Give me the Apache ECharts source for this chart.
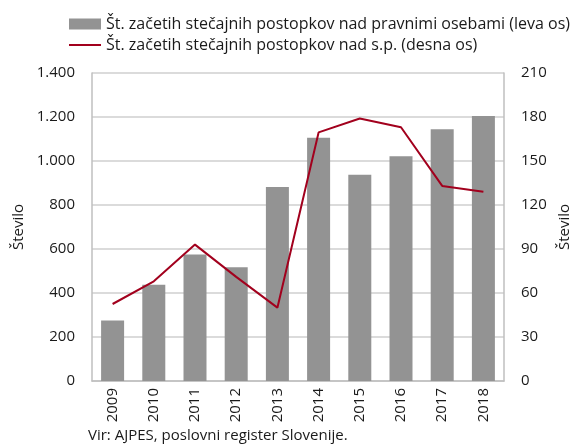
<!DOCTYPE html>
<html>
<head>
<meta charset="utf-8">
<script src="https://cdn.jsdelivr.net/npm/echarts@6/dist/echarts.min.js"></script>
<style>
  html, body { margin: 0; padding: 0; background: #fff; }
  #chart { width: 573px; height: 448px; }
</style>
</head>
<body>
<div id="chart"></div>
<script>
const years = ['2009', '2010', '2011', '2012', '2013', '2014', '2015', '2016', '2017', '2018']
// pravne osebe (leva os)
const pravneOsebe = [275, 437, 575, 517, 882, 1106, 937, 1022, 1144, 1204]
// s.p. (desna os)
const samostojniPodjetniki = [52.5, 68, 93, 71, 50, 169.5, 179, 173, 133, 129]

const barName = 'Št. začetih stečajnih postopkov nad pravnimi osebami (leva os)'
const lineName = 'Št. začetih stečajnih postopkov nad s.p. (desna os)'

const font = '"Open Sans", "Noto Sans", sans-serif'
const fmt = v => String(v).replace(/\B(?=(\d{3})+(?!\d))/g, '.')

const myChart = echarts.init(document.getElementById('chart'))
myChart.setOption({
  animation: false,
  textStyle: { fontFamily: font, color: '#1a1a1a' },
  legend: {
    orient: 'vertical',
    left: 64,
    top: 11,
    itemGap: 5,
    itemWidth: 32,
    itemHeight: 11,
    textStyle: { fontSize: 16, color: '#1a1a1a', fontFamily: font },
    data: [
      { name: barName, icon: 'rect' },
      { name: lineName, icon: 'path://M0,0 L32,0 L32,2 L0,2 Z' }
    ]
  },
  grid: { left: 92, right: 69, top: 73, bottom: 67, containLabel: false, outerBoundsMode: 'none' },
  xAxis: {
    type: 'category',
    data: years,
    axisLine: { lineStyle: { color: '#bfbfbf', width: 1.5 } },
    axisTick: { show: false },
    axisLabel: { rotate: 90, fontSize: 15, color: '#1a1a1a', margin: 7 }
  },
  yAxis: [
    {
      type: 'value',
      min: 0,
      max: 1400,
      interval: 200,
      name: 'Število',
      nameLocation: 'middle',
      nameGap: 50,
      nameTextStyle: { fontSize: 15, color: '#1a1a1a' },
      axisLine: { show: true, lineStyle: { color: '#bfbfbf', width: 1.5 } },
      axisTick: { show: false },
      axisLabel: { fontSize: 15, color: '#1a1a1a', margin: 17, formatter: fmt },
      splitLine: { lineStyle: { color: '#cfcfcf', width: 1.5 } }
    },
    {
      type: 'value',
      min: 0,
      max: 210,
      interval: 30,
      name: 'Število',
      nameLocation: 'middle',
      nameGap: 52,
      nameTextStyle: { fontSize: 15, color: '#1a1a1a' },
      axisLine: { show: true, lineStyle: { color: '#bfbfbf', width: 1.5 } },
      axisTick: { show: false },
      axisLabel: { fontSize: 15, color: '#1a1a1a', margin: 17 },
      splitLine: { show: false }
    }
  ],
  series: [
    {
      name: barName,
      type: 'bar',
      yAxisIndex: 0,
      barWidth: 23,
      itemStyle: { color: '#939393' },
      data: pravneOsebe
    },
    {
      name: lineName,
      type: 'line',
      yAxisIndex: 1,
      symbol: 'none',
      lineStyle: { color: '#a2001d', width: 2 },
      itemStyle: { color: '#a2001d' },
      data: samostojniPodjetniki
    }
  ],
  graphic: [
    {
      type: 'text',
      left: 88,
      top: 428,
      style: {
        text: 'Vir: AJPES, poslovni register Slovenije.',
        font: '15px ' + font,
        fill: '#1a1a1a'
      }
    }
  ]
})
</script>
</body>
</html>
